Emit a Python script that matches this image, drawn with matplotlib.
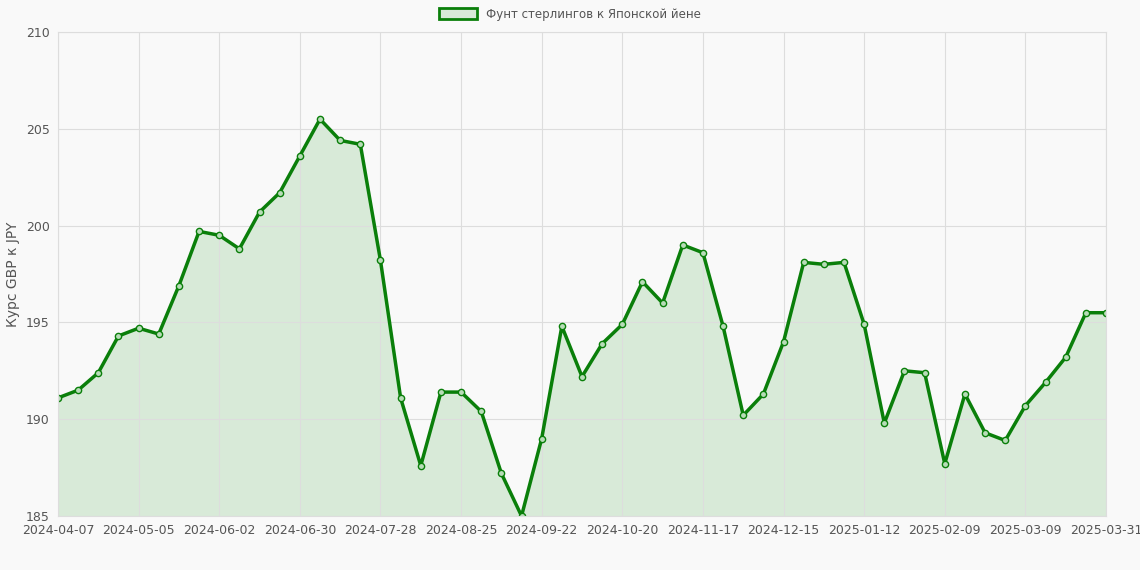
import matplotlib
matplotlib.use("Agg")
import matplotlib.pyplot as plt

values = [191.1,191.5,192.4,194.3,194.7,194.4,196.9,199.7,199.5,198.8,200.7,201.7,203.6,205.5,
          204.4,204.2,198.2,191.1,187.6,191.4,191.4,190.4,187.2,185.0,189.0,194.8,192.2,193.9,
          194.9,197.1,196.0,199.0,198.6,194.8,190.2,191.3,194.0,198.1,198.0,198.1,194.9,189.8,
          192.5,192.4,187.7,191.3,189.3,188.9,190.7,191.9,193.2,195.5,195.5]
tick_labels = ["2024-04-07","2024-05-05","2024-06-02","2024-06-30","2024-07-28","2024-08-25",
               "2024-09-22","2024-10-20","2024-11-17","2024-12-15","2025-01-12","2025-02-09",
               "2025-03-09","2025-03-31"]
tick_pos = [0,4,8,12,16,20,24,28,32,36,40,44,48,52]

x = list(range(len(values)))
fig = plt.figure(figsize=(11.4,5.7), dpi=100)
fig.patch.set_facecolor("#f9f9f9")
ax = fig.add_axes([58/1140, 1-516/570, (1106-58)/1140, (516-32)/570])
ax.set_facecolor("#f9f9f9")
ax.fill_between(x, values, 185, color="#d8ead8")
ax.plot(x, values, color="#0a7f0a", lw=2.5, marker="o", ms=4.5, mfc="#b8dcb8", mec="#0a7f0a", mew=1.0,
        label="Фунт стерлингов к Японской йене")
ax.set_xlim(0, 52); ax.set_ylim(185, 210)
ax.set_yticks([185,190,195,200,205,210])
ax.set_xticks(tick_pos); ax.set_xticklabels(tick_labels)
ax.grid(color="#dddddd", lw=0.8)
for s in ax.spines.values(): s.set_color("#dddddd")
ax.tick_params(colors="#555555", labelsize=9, length=0, pad=6)
ax.set_ylabel("Курс GBP к JPY", color="#555555", fontsize=10)
leg = fig.legend(handles=[plt.Rectangle((0,0),1,1,fc="#d8ead8",ec="#0a7f0a",lw=2)],
                 labels=["Фунт стерлингов к Японской йене"], loc="upper center",
                 bbox_to_anchor=(0.5,1.005), frameon=False, fontsize=8.5, handlelength=3.2,
                 handleheight=1.1)
for t in leg.get_texts(): t.set_color("#555555")
fig.savefig("out.png", dpi=100, facecolor=fig.get_facecolor())
